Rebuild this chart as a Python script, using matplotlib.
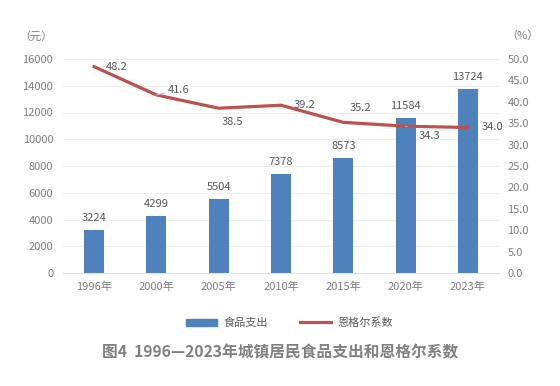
import matplotlib
matplotlib.use('Agg')
import matplotlib.pyplot as plt
import numpy as np
from matplotlib.patches import Patch
from matplotlib.lines import Line2D

plt.rcParams['font.family'] = ['Noto Sans CJK SC', 'DejaVu Sans']

years = ['1996年', '2000年', '2005年', '2010年', '2015年', '2020年', '2023年']
food = [3224, 4299, 5504, 7378, 8573, 11584, 13724]
engel = [48.2, 41.6, 38.5, 39.2, 35.2, 34.3, 34.0]
# label offsets in pixels for the line labels
engel_off = [(23, 0), (22, 5), (14, -14), (24, 0), (17, 14), (24, -10), (25, 0)]

bar_c = '#4F81BD'
line_c = '#C0504D'
txt_c = '#595959'
tick_c = '#808080'

fig = plt.figure(figsize=(5.6, 3.86), dpi=100)
ax = fig.add_axes([63/560, 1-273/386, 436/560, 214/386])
ax2 = ax.twinx()

x = np.arange(len(years))
ax.bar(x, food, width=0.32, color=bar_c, zorder=2)
for xi, v in zip(x, food):
    ax.annotate(str(v), (xi, v), xytext=(0, 7), textcoords='offset pixels',
                ha='center', va='bottom', fontsize=8, color=txt_c)

ax.set_ylim(0, 16000)
ax.set_yticks(np.arange(0, 16001, 2000))
ax.set_xlim(-0.5, len(years) - 0.5)
ax.set_xticks(x)
ax.set_xticklabels(years)
ax.grid(axis='y', color='#EFEFEF', linewidth=0.8, zorder=0)
ax.set_axisbelow(True)

ax2.plot(x, engel, color=line_c, linewidth=2.3, zorder=3)
ax2.set_ylim(0, 50)
ax2.set_yticks(np.arange(0, 50.1, 5))
ax2.set_yticklabels([f'{t:.1f}' for t in np.arange(0, 50.1, 5)])
for i, (xi, v) in enumerate(zip(x, engel)):
    dx, dy = engel_off[i]
    arrow = None
    if i in (1, 5):
        arrow = dict(arrowstyle='-', color='#BFBFBF', lw=0.8, shrinkA=7, shrinkB=0)
    ax2.annotate(f'{v:.1f}', (xi, v), xytext=(dx, dy), textcoords='offset pixels',
                 ha='center', va='center', fontsize=8, color=txt_c, arrowprops=arrow)

for a in (ax, ax2):
    for s in a.spines.values():
        s.set_visible(False)
    a.tick_params(length=0, labelsize=8, colors=tick_c)
ax.spines['bottom'].set_visible(True)
ax.spines['bottom'].set_color('#E0E0E0')
ax.tick_params(axis='x', pad=6)
ax.tick_params(axis='y', pad=7)
ax2.tick_params(axis='y', pad=6)

fig.text(36/560, 1-36/386, '（元）', fontsize=8, color=tick_c, ha='center', va='center')
fig.text(522/560, 1-36/386, '（%）', fontsize=8, color=tick_c, ha='center', va='center')

handles = [Patch(color=bar_c), Line2D([0], [0], color=line_c, lw=2.3)]
fig.legend(handles, ['食品支出', '恩格尔系数'], loc='center', bbox_to_anchor=(0.517, 1-323/386),
           ncol=2, frameon=False, fontsize=8, labelcolor=txt_c, handlelength=2.8,
           handleheight=0.7, handletextpad=0.6, columnspacing=2.8)

fig.text(0.5, 1-352/386, '图4  1996—2023年城镇居民食品支出和恩格尔系数', fontsize=11.3,
         fontweight='bold', color='#808080', ha='center', va='center')

fig.savefig('out.png', dpi=100)
